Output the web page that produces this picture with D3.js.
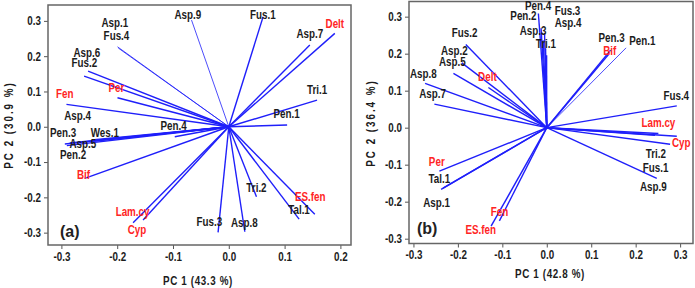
<!DOCTYPE html>
<html>
<head>
<meta charset="utf-8">
<script src="https://cdn.jsdelivr.net/npm/d3@7"></script>
<style>
  html, body { margin: 0; padding: 0; background: #fff; }
  svg { display: block; }
  text { font-family: "Liberation Sans", Arial, sans-serif; font-weight: bold; }
</style>
</head>
<body>
<script>
// ---------------- DATA ----------------
// Panel (a)
const namesA = ["Asp.1","Fus.4","Asp.9","Fus.1","Delt","Asp.7","Asp.6","Fus.2","Per","Fen","Tri.1","Pen.1",
  "Asp.4","Pen.3","Wes.1","Asp.5","Pen.2","Pen.4","Bif","Lam.cy","Cyp","Fus.3","Asp.8","Tri.2","Tal.1","ES.fen"];
const pc1A = [-0.1995,-0.198,-0.0668,0.0615,0.190,0.1452,-0.2522,-0.2593,-0.1995,-0.2909,0.1582,0.1045,
  -0.2491,-0.2939,-0.2455,-0.285,-0.2903,-0.0968,-0.2581,-0.1715,-0.1536,-0.0192,0.0287,0.0496,0.126,0.1541];
const pc2A = [0.2266,0.223,0.3023,0.3116,0.2646,0.2314,0.1578,0.1436,0.0822,0.0635,0.0756,0.0048,
  -0.0419,-0.049,-0.0377,-0.046,-0.0533,-0.0283,-0.1462,-0.272,-0.2643,-0.2992,-0.2975,-0.1983,-0.2615,-0.2482];
const labelPc1A = [-0.2043,-0.2013,-0.0735,0.0609,0.190,0.1452,-0.2545,-0.259,-0.2013,-0.2939,0.1582,0.1034,
  -0.271,-0.2968,-0.2222,-0.2616,-0.2791,-0.0991,-0.2604,-0.1724,-0.1645,-0.0349,0.0278,0.0496,0.1258,0.146];
const labelPc2A = [0.2938,0.2569,0.3164,0.3184,0.2929,0.2646,0.2088,0.1813,0.1096,0.0926,0.104,0.036,
  0.0303,-0.016,-0.016,-0.047,-0.0782,0.002,-0.1348,-0.2408,-0.2926,-0.2691,-0.2708,-0.1728,-0.234,-0.1983];

// Panel (b)
const namesB = ["Pen.4","Pen.2","Asp.3","Tri.1","Fus.3","Asp.4","Fus.2","Asp.2","Asp.5","Delt","Asp.8","Asp.7",
  "Pen.3","Bif","Pen.1","Fus.4","Lam.cy","Cyp","Tri.2","Fus.1","Asp.9","Per","Tal.1","Asp.1","Fen","ES.fen"];
const pc1B = [-0.0189,-0.0128,-0.0083,-0.0004,-0.005,-0.0027,-0.1822,-0.1912,-0.2101,-0.1314,-0.2738,-0.2529,
  0.1435,0.1408,0.1784,0.2925,0.2511,0.2925,0.2774,0.2436,0.2475,-0.2416,-0.2378,-0.2333,-0.1066,-0.1253];
const pc2B = [0.3086,0.2689,0.2365,0.196,0.2554,0.2149,0.2249,0.1751,0.1465,0.1086,0.1195,0.0635,
  0.2095,0.2005,0.2157,0.0589,-0.0157,-0.023,-0.0446,-0.0203,-0.1373,-0.1176,-0.167,-0.1635,-0.2519,-0.2662];
const labelPc1B = [-0.0196,-0.0525,-0.0308,-0.002,0.0466,0.0479,-0.185,-0.2081,-0.2126,-0.1336,-0.2776,-0.2569,
  0.146,0.1417,0.2148,0.2913,0.2511,0.3026,0.2455,0.2448,0.2398,-0.2475,-0.2416,-0.2479,-0.1064,-0.1485];
const labelPc2B = [0.3285,0.3022,0.2635,0.2275,0.3176,0.2843,0.2573,0.2095,0.1778,0.1392,0.1465,0.0924,
  0.2427,0.2095,0.2346,0.0878,0.013,-0.0411,-0.0697,-0.1086,-0.16,-0.0905,-0.1373,-0.2022,-0.2257,-0.2743];

// Axes
const xTicksA = [-0.3,-0.2,-0.1,0.0,0.1,0.2];
const xTicksB = [-0.3,-0.2,-0.1,0.0,0.1,0.2,0.3];
const yTicks = [-0.3,-0.2,-0.1,0.0,0.1,0.2,0.3];
const xDomainA = [-0.324, 0.219], yDomainA = [-0.335, 0.345];
const xDomainB = [-0.31, 0.329],  yDomainB = [-0.313, 0.341];
const xTitleA = "PC 1 (43.3 %)", yTitleA = "PC 2 (30.9 %)";
const xTitleB = "PC 1 (42.8 %)", yTitleB = "PC 2 (36.4 %)";
const redNames = ["Delt","Per","Fen","Bif","Lam.cy","Cyp","ES.fen"];
const thinNamesA = ["Asp.1","Fus.4","Asp.9"];
const thinNamesB = ["Pen.1"];

// ---------------- DRAW ----------------
const W = 695, H = 288;
const svg = d3.select("body").append("svg").attr("width", W).attr("height", H);
const BLUE = "#1f1ffa", RED = "#ff2424", DARK = "#1c1c1c";
const NARROW = 0.82;
const fmt = d => d.toFixed(1);

function panel(cfg) {
  const x = d3.scaleLinear().domain(cfg.xDomain).range([cfg.left, cfg.right]);
  const y = d3.scaleLinear().domain(cfg.yDomain).range([cfg.bottom, cfg.top]);
  const g = svg.append("g");

  // x axis
  const ax = g.append("g").attr("transform", `translate(0,${cfg.bottom})`)
    .call(d3.axisBottom(x).tickValues(cfg.xTicks).tickFormat(fmt).tickSize(4).tickPadding(3));
  ax.select(".domain").remove();
  ax.selectAll("line").attr("stroke", "#555");
  ax.selectAll("text").attr("fill", DARK).style("font-size", "12px").style("font-family", null)
    .attr("transform", `scale(${NARROW},1)`);

  const ay = g.append("g").attr("transform", `translate(${cfg.left},0)`)
    .call(d3.axisLeft(y).tickValues(yTicks).tickFormat(fmt).tickSize(4).tickPadding(3));
  ay.select(".domain").remove();
  ay.selectAll("line").attr("stroke", "#555");
  ay.selectAll("text").attr("fill", DARK).style("font-size", "12px").style("font-family", null)
    .attr("x", -7 / NARROW).attr("transform", `scale(${NARROW},1)`);

  // frame
  g.append("rect").attr("x", cfg.left).attr("y", cfg.top)
    .attr("width", cfg.right - cfg.left).attr("height", cfg.bottom - cfg.top)
    .attr("fill", "none").attr("stroke", "#666").attr("stroke-width", 1.5);

  const data = cfg.names.map((n, i) => ({
    n, x: cfg.pc1[i], y: cfg.pc2[i], lx: cfg.lpc1[i], ly: cfg.lpc2[i]
  }));

  g.append("g").selectAll("line").data(data).join("line")
    .attr("x1", x(0)).attr("y1", y(0))
    .attr("x2", d => x(d.x)).attr("y2", d => y(d.y))
    .attr("stroke", BLUE)
    .attr("stroke-width", d => cfg.thin.includes(d.n) ? 0.8 : 1.4);

  g.append("g").selectAll("text").data(data).join("text")
    .attr("transform", d => `translate(${x(d.lx)},${y(d.ly)}) scale(${NARROW},1)`)
    .attr("text-anchor", "middle").attr("dominant-baseline", "central")
    .attr("fill", d => redNames.includes(d.n) ? RED : DARK)
    .style("font-size", "12px")
    .text(d => d.n);

  // panel letter
  g.append("text").attr("x", cfg.letterX).attr("y", cfg.letterY)
    .attr("dominant-baseline", "central")
    .style("font-size", "16px").attr("fill", "#222").text(cfg.letter);

  // titles
  g.append("text")
    .attr("transform", `translate(${cfg.xTitleX},${cfg.xTitleY}) scale(${NARROW},1)`)
    .attr("text-anchor", "middle").attr("dominant-baseline", "central")
    .style("font-size", "12px").style("letter-spacing", "0.75px").attr("fill", DARK)
    .text(cfg.xTitle);
  g.append("text")
    .attr("transform", `translate(${cfg.yTitleX},${cfg.yTitleY}) rotate(-90) scale(${NARROW},1)`)
    .attr("text-anchor", "middle").attr("dominant-baseline", "central")
    .style("font-size", "12px").style("letter-spacing", "2.4px").attr("fill", DARK)
    .text(cfg.yTitle);
}

panel({
  names: namesA, pc1: pc1A, pc2: pc2A, lpc1: labelPc1A, lpc2: labelPc2A,
  xDomain: xDomainA, yDomain: yDomainA, xTicks: xTicksA, thin: thinNamesA,
  left: 48, right: 351, top: 5, bottom: 245,
  letter: "(a)", letterX: 60, letterY: 231,
  xTitle: xTitleA, xTitleX: 198, xTitleY: 281,
  yTitle: yTitleA, yTitleX: 9, yTitleY: 125
});
panel({
  names: namesB, pc1: pc1B, pc2: pc2B, lpc1: labelPc1B, lpc2: labelPc2B,
  xDomain: xDomainB, yDomain: yDomainB, xTicks: xTicksB, thin: thinNamesB,
  left: 409, right: 693, top: 1.5, bottom: 243.5,
  letter: "(b)", letterX: 417, letterY: 228,
  xTitle: xTitleB, xTitleX: 550, xTitleY: 274,
  yTitle: yTitleB, yTitleX: 371, yTitleY: 123
});
</script>
</body>
</html>
